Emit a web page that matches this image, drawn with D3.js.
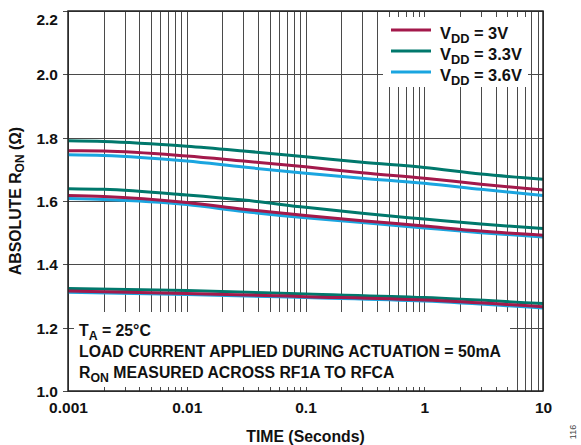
<!DOCTYPE html>
<html>
<head>
<meta charset="utf-8">
<script src="https://cdn.jsdelivr.net/npm/d3@7"></script>
<style>
  html, body { margin: 0; padding: 0; background: #fff; }
  svg { display: block; font-family: "Liberation Sans", Arial, Helvetica, sans-serif; font-weight: bold; }
</style>
</head>
<body>
<svg id="chart" width="581" height="445"></svg>
<script>
// ---- data ----
const timesAB = [0.001, 0.002, 0.01, 0.03, 0.1, 0.3, 1, 3, 10];
const timesC  = [0.001, 0.01, 0.1, 1, 10];

// upper group (A), middle group (B), lower group (C)
const vdd3_A  = [1.759, 1.758, 1.742, 1.726, 1.708, 1.689, 1.672, 1.653, 1.635];
const vdd33_A = [1.790, 1.788, 1.773, 1.758, 1.740, 1.722, 1.706, 1.685, 1.669];
const vdd36_A = [1.746, 1.744, 1.726, 1.707, 1.688, 1.672, 1.656, 1.637, 1.617];

const vdd3_B  = [1.617, 1.614, 1.595, 1.574, 1.554, 1.538, 1.521, 1.505, 1.492];
const vdd33_B = [1.639, 1.637, 1.619, 1.603, 1.580, 1.561, 1.543, 1.527, 1.513];
const vdd36_B = [1.608, 1.605, 1.589, 1.567, 1.547, 1.532, 1.515, 1.500, 1.486];

const vdd3_C  = [1.316, 1.308, 1.298, 1.287, 1.266];
const vdd33_C = [1.324, 1.317, 1.306, 1.295, 1.276];
const vdd36_C = [1.312, 1.305, 1.295, 1.284, 1.262];

const xTickValues = [0.001, 0.01, 0.1, 1, 10];
const xTickLabels = ["0.001", "0.01", "0.1", "1", "10"];
const yTickValues = [1.0, 1.2, 1.4, 1.6, 1.8, 2.0, 2.2];
const yTickLabels = ["1.0", "1.2", "1.4", "1.6", "1.8", "2.0", "2.2"];

const seriesNames = ["3V", "3.3V", "3.6V"];
const seriesColors = ["#A3194B", "#00786C", "#1AA5E0"];

// ---- layout ----
const L = 68, R = 543, T = 11, B = 391;
const svg = d3.select("#chart");
const x = d3.scaleLog().domain([0.001, 10]).range([L, R]);
const y = d3.scaleLinear().domain([1.0, 2.2]).range([B, T]);

// minor grid positions
const minorTicks = [];
for (let e = -3; e < 1; e++) {
  for (let m = 1; m <= 9; m++) minorTicks.push(m * Math.pow(10, e));
}
minorTicks.push(10);

const grid = svg.append("g").attr("stroke", "#4a4a4a").attr("stroke-width", 1);
grid.selectAll("line.v").data(minorTicks).join("line")
  .attr("x1", d => Math.round(x(d)) + 0.5).attr("x2", d => Math.round(x(d)) + 0.5)
  .attr("y1", T).attr("y2", B);
grid.selectAll("line.h").data(yTickValues).join("line")
  .attr("x1", L).attr("x2", R)
  .attr("y1", d => Math.round(y(d)) + 0.5).attr("y2", d => Math.round(y(d)) + 0.5);

// white boxes (legend and annotation)
svg.append("rect").attr("x", 383).attr("y", 17).attr("width", 145).attr("height", 70).attr("fill", "#fff");
svg.append("rect").attr("x", L + 1).attr("y", 312).attr("width", 510 - L - 1).attr("height", 75).attr("fill", "#fff");

// tick stubs
const stubs = svg.append("g").attr("stroke", "#4a4a4a").attr("stroke-width", 1);
stubs.selectAll("line.t").data(minorTicks).join("line")
  .attr("x1", d => Math.round(x(d)) + 0.5).attr("x2", d => Math.round(x(d)) + 0.5)
  .attr("y1", T).attr("y2", T + 6);
stubs.selectAll("line.b").data(minorTicks).join("line")
  .attr("x1", d => Math.round(x(d)) + 0.5).attr("x2", d => Math.round(x(d)) + 0.5)
  .attr("y1", B - 4).attr("y2", B);
stubs.selectAll("line.y").data(yTickValues).join("line")
  .attr("x1", L - 5).attr("x2", L + 6)
  .attr("y1", d => Math.round(y(d)) + 0.5).attr("y2", d => Math.round(y(d)) + 0.5);

// curves
const line = d3.line().x(d => x(d[0])).y(d => y(d[1])).curve(d3.curveMonotoneX);
const groups = [
  [timesAB, [vdd3_A, vdd33_A, vdd36_A]],
  [timesAB, [vdd3_B, vdd33_B, vdd36_B]],
  [timesC,  [vdd3_C, vdd33_C, vdd36_C]]
];
const drawOrder = [2, 1, 0];
const curves = svg.append("g").attr("fill", "none").attr("stroke-width", 3);
groups.forEach(([ts, vals]) => {
  drawOrder.forEach(i => {
    curves.append("path")
      .attr("d", line(ts.map((t, k) => [t, vals[i][k]])))
      .attr("stroke", seriesColors[i]);
  });
});

// frame
svg.append("rect").attr("x", L).attr("y", T).attr("width", R - L).attr("height", B - T)
  .attr("fill", "none").attr("stroke", "#222").attr("stroke-width", 1.5);

// axes labels
const xAxis = d3.axisBottom(x).tickValues(xTickValues).tickFormat((d, i) => xTickLabels[i]).tickSize(0).tickPadding(0);
const gx = svg.append("g").attr("transform", `translate(0,${B})`).call(xAxis);
gx.select(".domain").remove();
gx.selectAll("text").attr("font-size", 15.5).attr("font-weight", "bold").attr("fill", "#111")
  .attr("font-family", "Liberation Sans, Arial, sans-serif").attr("y", 21.5).attr("dy", 0);

const yAxis = d3.axisLeft(y).tickValues(yTickValues).tickFormat((d, i) => yTickLabels[i]).tickSize(0).tickPadding(0);
const gy = svg.append("g").attr("transform", `translate(${L},0)`).call(yAxis);
gy.select(".domain").remove();
gy.selectAll("text").attr("font-size", 15.5).attr("font-weight", "bold").attr("fill", "#111")
  .attr("font-family", "Liberation Sans, Arial, sans-serif").attr("x", -10)
  .attr("dy", d => d === 2.2 ? "0.85em" : "0.35em");

// axis titles
svg.append("text").attr("x", (L + R) / 2).attr("y", 441.5).attr("text-anchor", "middle")
  .attr("font-size", 15.8).attr("fill", "#111").text("TIME (Seconds)");

const yt = svg.append("text").attr("transform", `translate(21,${(T + B) / 2}) rotate(-90)`)
  .attr("text-anchor", "middle").attr("font-size", 15.8).attr("fill", "#111");
yt.append("tspan").text("ABSOLUTE R");
yt.append("tspan").attr("font-size", 12).attr("dy", 3).text("ON");
yt.append("tspan").attr("dy", -3).text(" (Ω)");

// legend
const lg = svg.append("g");
seriesNames.forEach((name, i) => {
  const ly = 30 + i * 21;
  lg.append("line").attr("x1", 391).attr("x2", 431).attr("y1", ly).attr("y2", ly)
    .attr("stroke", seriesColors[i]).attr("stroke-width", 3);
  const t = lg.append("text").attr("x", 440).attr("y", ly + 9).attr("font-size", 16.4).attr("fill", "#111");
  t.append("tspan").text("V");
  t.append("tspan").attr("font-size", 12.8).attr("dy", 4).text("DD");
  t.append("tspan").attr("dy", -4).text(" = " + name);
});

// annotation
const ann = svg.append("g").attr("font-size", 15.8).attr("fill", "#111");
const a1 = ann.append("text").attr("x", 79).attr("y", 335.5);
a1.append("tspan").text("T");
a1.append("tspan").attr("font-size", 12.3).attr("dy", 4).text("A");
a1.append("tspan").attr("dy", -4).text(" = 25°C");
ann.append("text").attr("x", 79).attr("y", 356.5).text("LOAD CURRENT APPLIED DURING ACTUATION = 50mA");
const a3 = ann.append("text").attr("x", 79).attr("y", 377.5);
a3.append("tspan").text("R");
a3.append("tspan").attr("font-size", 12.3).attr("dy", 4).text("ON");
a3.append("tspan").attr("dy", -4).text(" MEASURED ACROSS RF1A TO RFCA");

// figure number
svg.append("text").attr("transform", "translate(576,432) rotate(-90)").attr("text-anchor", "middle")
  .attr("font-size", 9).attr("font-weight", "normal").attr("fill", "#444").text("116");
</script>
</body>
</html>
